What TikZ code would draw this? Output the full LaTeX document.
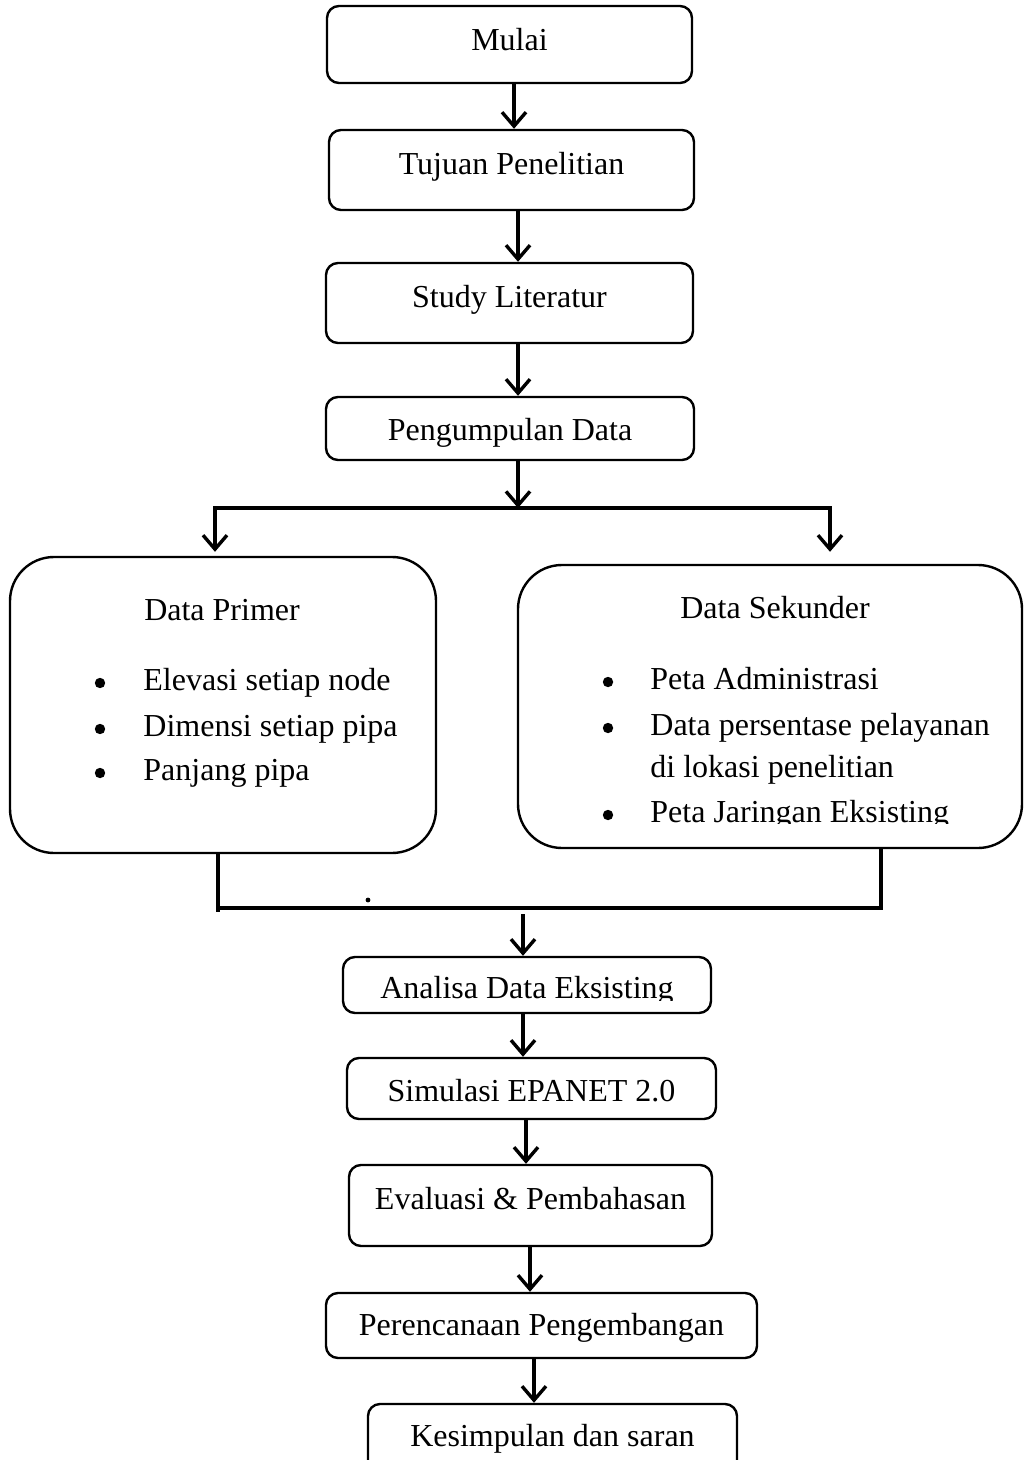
\documentclass[tikz,border=0pt]{standalone}
\usepackage{fontspec}
\setmainfont{Liberation Serif}
\usetikzlibrary{arrows.meta,calc}
\begin{document}
\begin{tikzpicture}[x=0.5pt,y=-0.5pt,
  box/.style={draw,line width=1.2pt,rounded corners=6pt,inner sep=0pt},
  bigbox/.style={draw,line width=1.2pt,rounded corners=22pt,inner sep=0pt},
  txt/.style={font=\fontsize{16}{19}\selectfont,inner sep=0pt},
  dotb/.style={circle,fill,inner sep=0pt,minimum size=5.2pt},
  conn/.style={line width=1.7pt},
  arr/.style={line width=1.7pt,-{Straight Barb[length=7pt,width=12pt]}}]
\useasboundingbox (0,0) rectangle (1024,1460);
\clip (0,0) rectangle (1024,1460);

% boxes
\node[box,minimum width=182.5pt,minimum height=38.5pt] (mulai) at (509.5,44.5) {};
\node[box,minimum width=182.5pt,minimum height=40pt] (tujuan) at (511.5,170) {};
\node[box,minimum width=183.5pt,minimum height=40pt] (study) at (509.5,303) {};
\node[box,minimum width=184pt,minimum height=31.5pt] (peng) at (510,428.5) {};
\node[bigbox,minimum width=213pt,minimum height=148pt] (prim) at (223,705) {};
\node[bigbox,minimum width=252pt,minimum height=141.5pt] (sek) at (770,706.5) {};
\node[box,minimum width=184pt,minimum height=28pt] (ana) at (527,985) {};
\node[box,minimum width=184.5pt,minimum height=30.5pt] (sim) at (531.5,1088.5) {};
\node[box,minimum width=181.5pt,minimum height=40.5pt] (eva) at (530.5,1205.5) {};
\node[box,minimum width=215.5pt,minimum height=32.5pt] (per) at (541.5,1325.5) {};
\node[box,minimum width=184.5pt,minimum height=35.5pt] (kes) at (552.5,1439.5) {};

% texts
\node[txt,anchor=base] (tmulai) at (509.5,51) {Mulai};
\node[txt,anchor=base] (ttujuan) at (511.5,175) {Tujuan Penelitian};
\node[txt,anchor=base] (tstudy) at (509.5,308) {Study Literatur};
\node[txt,anchor=base] (tpeng) at (510,440) {Pengumpulan Data};

\node[txt,anchor=base] (tprim) at (222,620) {Data Primer};
\node[dotb] (bp1) at (100,683) {};
\node[dotb] (bp2) at (100,729) {};
\node[dotb] (bp3) at (100,773) {};
\node[txt,anchor=base west] (p1) at (143,690) {Elevasi setiap node};
\node[txt,anchor=base west] (p2) at (143,736) {Dimensi setiap pipa};
\node[txt,anchor=base west] (p3) at (143,780) {Panjang pipa};

\node[txt,anchor=base] (tsek) at (775,618) {Data Sekunder};
\node[dotb] (bs1) at (608,682) {};
\node[dotb] (bs2) at (608,728) {};
\node[dotb] (bs3) at (608,815) {};
\node[txt,anchor=base west] (s1) at (650,689) {Peta Administrasi};
\node[txt,anchor=base west] (s2) at (650,735) {Data persentase pelayanan};
\node[txt,anchor=base west] (s3) at (650,777) {di lokasi penelitian};
\begin{scope}
  \clip (640,780) rectangle (1005,823);
  \node[txt,anchor=base west] (s4) at (650,822) {Peta Jaringan Eksisting};
\end{scope}

\begin{scope}
  \clip (348,960) rectangle (707,1000);
  \node[txt,anchor=base] (tana) at (527,998) {Analisa Data Eksisting};
\end{scope}
\node[txt,anchor=base] (tsim) at (531.5,1101) {Simulasi EPANET 2.0};
\node[txt,anchor=base] (teva) at (530.5,1209) {Evaluasi \& Pembahasan};
\node[txt,anchor=base] (tper) at (541.5,1335) {Perencanaan Pengembangan};
\node[txt,anchor=base] (tkes) at (552.5,1446) {Kesimpulan dan saran};

% connectors
\draw[arr] (514,0 |- mulai.south) -- (514,0 |- tujuan.north);
\draw[arr] (518,0 |- tujuan.south) -- (518,0 |- study.north);
\draw[arr] (518,0 |- study.south) -- (518,0 |- peng.north);

\coordinate (jc) at (518,508);
\coordinate (jl) at (215,508);
\coordinate (jr) at (830,508);
\draw[arr] (518,0 |- peng.south) -- (jc);
\draw[conn] ([xshift=-0.85pt]jl) -- ([xshift=0.85pt]jr);
\draw[arr] (jl) -- ([yshift=2pt]215,0 |- prim.north);
\draw[arr] (jr) -- ([yshift=6pt]830,0 |- sek.north);

\coordinate (ml) at (218,912);
\coordinate (mh) at (218,908);
\coordinate (mr) at (881,908);
\coordinate (mc) at (523,914);
\draw[conn] (218,0 |- prim.south) -- (ml);
\draw[conn] (mh) -- ([xshift=0.85pt]mr);
\draw[conn] (mr) -- (881,0 |- sek.south);
\fill (368,900) circle (1.2pt);
\draw[arr] (mc) -- (523,0 |- ana.north);

\draw[arr] (523,0 |- ana.south) -- (523,0 |- sim.north);
\draw[arr] (526,0 |- sim.south) -- (526,0 |- eva.north);
\draw[arr] (530,0 |- eva.south) -- (530,0 |- per.north);
\draw[arr] (534,0 |- per.south) -- (534,0 |- kes.north);
\end{tikzpicture}
\end{document}
